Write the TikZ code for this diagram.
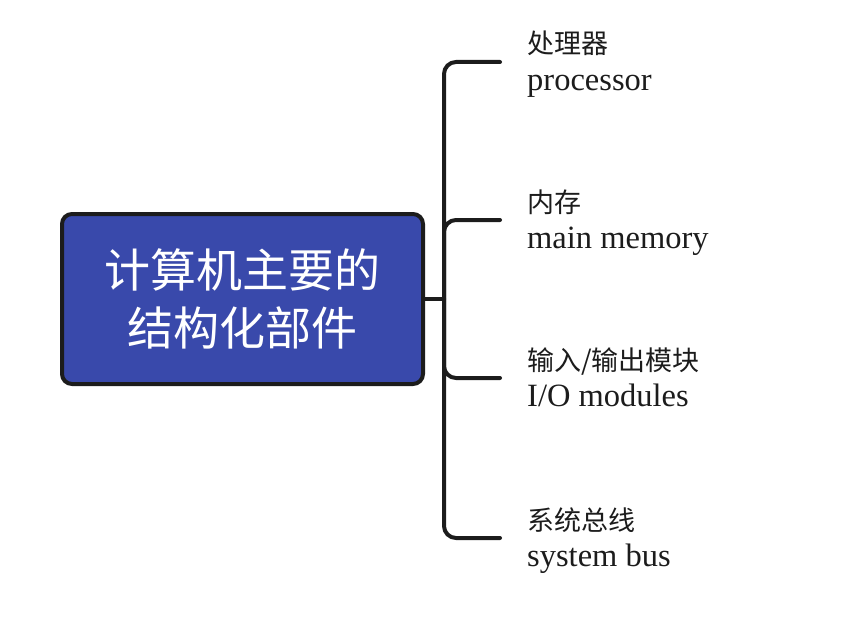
\documentclass[tikz,border=0pt]{standalone}
\usepackage{fontspec}
\setmainfont{Liberation Serif}
\newfontfamily\cjk{Noto Sans CJK SC}
\usetikzlibrary{positioning}
\definecolor{rootblue}{HTML}{3949AB}
\definecolor{inkgray}{HTML}{1C1C1C}
\tikzset{
  root/.style={draw=inkgray, line width=4pt, fill=rootblue, rounded corners=10pt,
    minimum width=361pt, minimum height=170pt, align=center, text=white,
    font=\cjk\fontsize{46}{58}\selectfont},
  leaf/.style={anchor=base west, align=left, inner sep=0pt, text=inkgray,
    font=\fontsize{32.5}{36}\selectfont},
  branch/.style={line width=4pt, draw=inkgray, rounded corners=12pt, line cap=round},
}
\newcommand{\zh}[1]{{\cjk\fontsize{27}{36}\selectfont #1}}

\begin{document}
\begin{tikzpicture}[x=1pt,y=-1pt]
  \useasboundingbox (0,0) rectangle (841,634);
  % root
  \node[root] (root) at (242.5,299) {计算机主要的\\结构化部件};
  \coordinate (hub) at (444,299);
  % branch ends
  \coordinate (e1) at (500,62);
  \coordinate (e2) at (500,220);
  \coordinate (e3) at (500,378);
  \coordinate (e4) at (500,538);
  % leaves
  \node[leaf] (proc) at ([xshift=27pt,yshift=-28pt]e1) {\zh{处理器}\\processor};
  \node[leaf] (mem)  at ([xshift=27pt,yshift=-28pt]e2) {\zh{内存}\\main memory};
  \node[leaf] (io)   at ([xshift=27pt,yshift=-28pt]e3) {\zh{输入/输出模块}\\I/O modules};
  \node[leaf] (bus)  at ([xshift=27pt,yshift=-28pt]e4) {\zh{系统总线}\\system bus};
  % connectors
  \draw[branch] (root.east) -- (hub);
  \foreach \e in {e1,e2,e3,e4}
    \draw[branch] (hub) |- (\e);
\end{tikzpicture}
\end{document}
